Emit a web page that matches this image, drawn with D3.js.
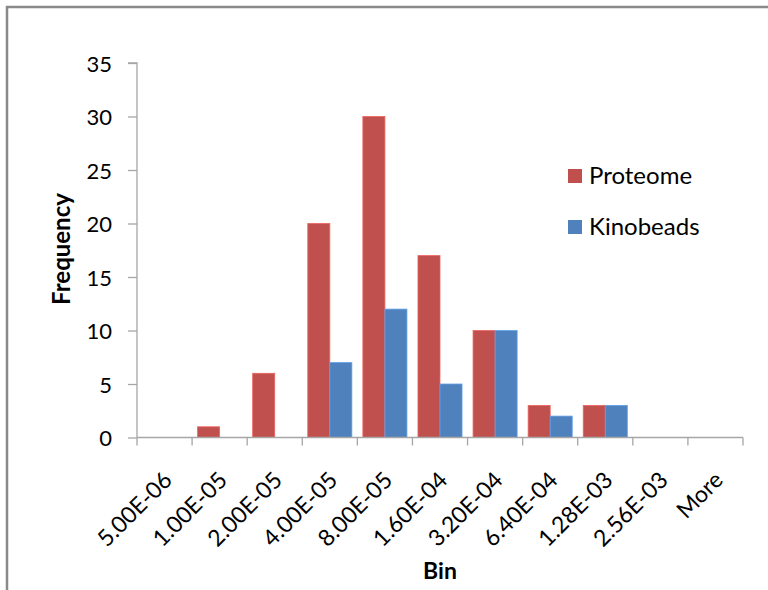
<!DOCTYPE html>
<html>
<head>
<meta charset="utf-8">
<script src="https://cdn.jsdelivr.net/npm/d3@7"></script>
<style>
  html, body { margin: 0; padding: 0; background: #fff; }
  svg { display: block; }
  text { font-family: Lato, "Open Sans", sans-serif; fill: #000; }
</style>
</head>
<body>
<script>
const categories = ["5.00E-06","1.00E-05","2.00E-05","4.00E-05","8.00E-05","1.60E-04","3.20E-04","6.40E-04","1.28E-03","2.56E-03","More"];
const proteome  = [0, 1, 6, 20, 30, 17, 10, 3, 3, 0, 0];
const kinobeads = [0, 0, 0, 7, 12, 5, 10, 2, 3, 0, 0];
const seriesNames = ["Proteome", "Kinobeads"];
const seriesColors = ["#C0504D", "#4F81BD"];
const yTicks = [0, 5, 10, 15, 20, 25, 30, 35];

(function () {
const W = 768, H = 590;
const svg = d3.select("body").append("svg").attr("width", W).attr("height", H);

// outer chart border
svg.append("rect").attr("x", 7).attr("y", 7).attr("width", W + 10).attr("height", H + 10)
  .attr("fill", "none").attr("stroke", "#8a8a8a").attr("stroke-width", 2.5);

const pL = 137, pR = 743, pT = 63, pB = 437.5;

const x = d3.scaleBand().domain(categories).range([pL, pR]).paddingInner(0.2).paddingOuter(0.1);
const x0 = d3.scaleBand().domain(categories).range([pL, pR]);
const xs = d3.scaleBand().domain(seriesNames).range([0, x.bandwidth()]);
const y = d3.scaleLinear().domain([0, 35]).range([pB, pT]);

// bars
const data = [proteome, kinobeads];
seriesNames.forEach((name, si) => {
  svg.append("g").selectAll("rect").data(data[si]).join("rect")
    .attr("x", (d, i) => x(categories[i]) + xs(name))
    .attr("width", xs.bandwidth())
    .attr("y", d => y(d))
    .attr("height", d => pB - y(d))
    .attr("fill", seriesColors[si])
    .attr("stroke", d => d > 0 ? d3.color(seriesColors[si]).brighter(0.6) : "none")
    .attr("stroke-width", 0.8);
});

// y axis
const yAxis = d3.axisLeft(y).tickValues(yTicks).tickSize(9).tickPadding(16).tickFormat(d3.format("d"));
const gy = svg.append("g").attr("transform", `translate(${pL},0)`).call(yAxis);
gy.select(".domain").attr("stroke", "#a6a6a6").attr("stroke-width", 1.3).attr("d", `M-9,${pT}H0V${pB}`);
gy.selectAll(".tick line").attr("stroke", "#a6a6a6").attr("stroke-width", 1.3);
gy.selectAll(".tick text").style("font-size", "22px").style("font-family", "Lato, sans-serif").attr("fill", "#000").attr("dy", "0.38em");

// x axis
const gx = svg.append("g").attr("transform", `translate(0,${pB})`)
  .call(d3.axisBottom(x0).tickSize(0).tickFormat(""));
gx.select(".domain").attr("stroke", "#a6a6a6").attr("stroke-width", 1.3).attr("d", `M${pL},0H${pR}`);
gx.selectAll(".tick").remove();
const edges = categories.map(c => x0(c)).concat([pR]);
gx.selectAll("line.edge").data(edges).join("line").attr("class", "edge")
  .attr("x1", d => d).attr("x2", d => d).attr("y1", 0).attr("y2", 8)
  .attr("stroke", "#a6a6a6").attr("stroke-width", 1.3);

svg.append("g").selectAll("text").data(categories).join("text")
  .attr("transform", d => `translate(${x0(d) + x0.bandwidth() / 2 + 9},${pB + 44}) rotate(-45)`)
  .attr("text-anchor", "end")
  .style("font-size", "23px")
  .text(d => d);

// axis titles
svg.append("text").attr("x", 440).attr("y", 579).attr("text-anchor", "middle")
  .style("font-size", "23px").style("font-weight", "bold").text("Bin");
svg.append("text").attr("transform", "translate(70,249) rotate(-90)").attr("text-anchor", "middle")
  .style("font-size", "24px").style("font-weight", "bold").text("Frequency");

// legend
const legend = svg.append("g").attr("transform", "translate(568,169)");
seriesNames.forEach((name, i) => {
  const g = legend.append("g").attr("transform", `translate(0,${i * 51})`);
  g.append("rect").attr("width", 14).attr("height", 14).attr("fill", seriesColors[i]);
  g.append("text").attr("x", 21).attr("y", 15).style("font-size", "24px").text(name);
});
})();
</script>
</body>
</html>
